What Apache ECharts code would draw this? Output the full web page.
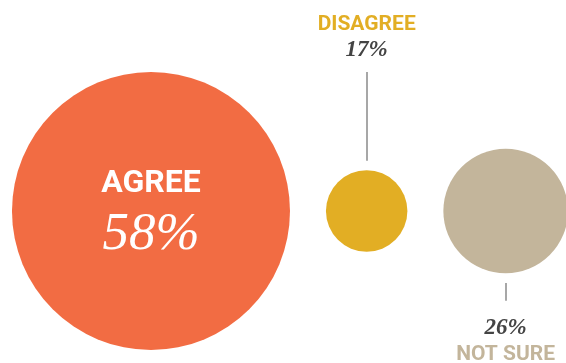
<!DOCTYPE html>
<html><head><meta charset="utf-8">
<script src="https://cdn.jsdelivr.net/npm/echarts@6/dist/echarts.min.js"></script>
<style>html,body{margin:0;padding:0;background:#fff}#c{width:566px;height:363px}</style>
</head><body><div id="c"></div>
<script>
// ---- data ----
const categories = ['AGREE', 'DISAGREE', 'NOT SURE'];
const values = [58, 17, 26];
const valueLabels = ['58%', '17%', '26%'];

// ---- style / layout ----
const colors = ['#F26C43', '#E2AE24', '#C3B59B'];
const nameColors = ['#FFFFFF', '#E2AE24', '#C3B59B'];
const numColors = ['#FFFFFF', '#444444', '#444444'];
const W = 566, H = 363;
const pxPerUnit = 139 / 58;      // axis scale (px per unit)
const leftMargin = 5, gap = 15;  // units
const centerYpx = 211;

const centers = [];
let cursor = leftMargin;
values.forEach(v => { centers.push(cursor + v); cursor += 2 * v + gap; });

const chart = echarts.init(document.getElementById('c'), null, {renderer: 'canvas'});

const sans = 'Roboto';
const serif = 'Liberation Serif';

function labelFor(i) {
  if (i === 0) {
    return {
      show: true, position: 'inside', offset: [0, -1],
      formatter: '{n|' + categories[i] + '}\n{v|' + valueLabels[i] + '}',
      rich: {
        n: {fontFamily: sans, fontWeight: 'bold', fontSize: 32, color: nameColors[i], lineHeight: 50, align: 'center'},
        v: {fontFamily: serif, fontStyle: 'italic', fontSize: 53, color: numColors[i], lineHeight: 52, align: 'center'}
      }
    };
  }
  if (i === 1) {
    return {
      show: true, position: 'top', distance: 108,
      formatter: '{n|' + categories[i] + '}\n{v|' + valueLabels[i] + '}',
      rich: {
        n: {fontFamily: sans, fontWeight: 'bold', fontSize: 21, color: nameColors[i], lineHeight: 25, align: 'center'},
        v: {fontFamily: serif, fontStyle: 'italic', fontWeight: 'bold', fontSize: 23, color: numColors[i], lineHeight: 25, align: 'center'}
      }
    };
  }
  return {
    show: true, position: 'bottom', distance: 41,
    formatter: '{v|' + valueLabels[i] + '}\n{n|' + categories[i] + '}',
    rich: {
      n: {fontFamily: sans, fontWeight: 'bold', fontSize: 21, color: nameColors[i], lineHeight: 27, align: 'center'},
      v: {fontFamily: serif, fontStyle: 'italic', fontWeight: 'bold', fontSize: 23, color: numColors[i], lineHeight: 27, align: 'center'}
    }
  };
}

const bubbleData = values.map((v, i) => ({
  name: categories[i],
  value: [centers[i], 0, v],
  itemStyle: {color: colors[i], opacity: 1},
  label: labelFor(i)
}));

const leaderData = [
  {coords: [[centers[1], values[1] + 4], [centers[1], values[1] + 41]]},
  {coords: [[centers[2], -(values[2] + 4)], [centers[2], -(values[2] + 11.5)]]}
];

chart.setOption({
  animation: false,
  grid: {left: 0, right: 0, top: 0, bottom: 0},
  xAxis: {type: 'value', min: 0, max: W / pxPerUnit, show: false},
  yAxis: {type: 'value', min: -(H - centerYpx) / pxPerUnit, max: centerYpx / pxPerUnit, show: false},
  series: [
    {
      id: 'bubbles', type: 'scatter', symbol: 'circle',
      symbolSize: 1, data: bubbleData, silent: true,
      itemStyle: {opacity: 1},
      emphasis: {disabled: true}
    },
    {
      type: 'lines', coordinateSystem: 'cartesian2d', silent: true,
      lineStyle: {color: '#8A8A8A', width: 1.5, opacity: 1},
      data: leaderData
    }
  ]
});

const k = chart.convertToPixel({xAxisIndex: 0}, 1) - chart.convertToPixel({xAxisIndex: 0}, 0);
chart.setOption({series: [{id: 'bubbles', symbolSize: d => 2 * d[2] * k}]});
</script>
</body></html>
